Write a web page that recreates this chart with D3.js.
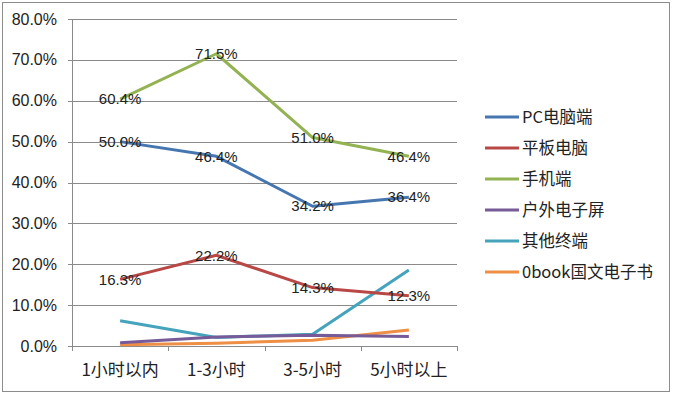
<!DOCTYPE html>
<html>
<head>
  <meta charset="utf-8" />
  <script src="https://d3js.org/d3.v7.min.js"></script>
  <style>
    body, html { margin: 0; background: #fff; }
    svg { display: block; font-family: "Liberation Sans", "Noto Sans CJK SC", sans-serif; }
  </style>
</head>
<body>
  <svg id="chart" width="673" height="396"></svg>
  <script>
    // categories and series
    var categories = ["1小时以内", "1-3小时", "3-5小时", "5小时以上"];
    var seriesNames = ["PC电脑端", "平板电脑", "手机端", "户外电子屏", "其他终端", "0book国文电子书"];
    var pcValues = [50.0, 46.4, 34.2, 36.4];
    var tabletValues = [16.3, 22.2, 14.3, 12.3];
    var mobileValues = [60.4, 71.5, 51.0, 46.4];
    var outdoorValues = [0.8, 2.2, 2.6, 2.3];
    var otherValues = [6.2, 2.1, 2.9, 18.6];
    var obookValues = [0.3, 0.7, 1.4, 3.9];
    var yTicks = [0, 10, 20, 30, 40, 50, 60, 70, 80];
    var colors = ["#4676B0", "#B84845", "#93B252", "#765B98", "#45A3BC", "#EE8F45"];

    var series = [
      { name: seriesNames[0], values: pcValues, labels: true },
      { name: seriesNames[1], values: tabletValues, labels: true },
      { name: seriesNames[2], values: mobileValues, labels: true },
      { name: seriesNames[3], values: outdoorValues, labels: false },
      { name: seriesNames[4], values: otherValues, labels: false },
      { name: seriesNames[5], values: obookValues, labels: false }
    ];

    var svg = d3.select("#chart");

    // outer frame
    svg.append("rect")
      .attr("x", 2.5).attr("y", 2.5)
      .attr("width", 667).attr("height", 389)
      .attr("fill", "none").attr("stroke", "#8c8c8c").attr("stroke-width", 1);

    var plotLeft = 72, plotRight = 457, plotTop = 19, plotBottom = 346;

    var x = d3.scaleBand().domain(categories).range([plotLeft, plotRight]);
    var y = d3.scaleLinear().domain([0, 80]).range([plotBottom, plotTop]);

    // gridlines
    svg.append("g").selectAll("line")
      .data(yTicks)
      .enter().append("line")
      .attr("x1", plotLeft - 4).attr("x2", plotRight)
      .attr("y1", function(d) { return Math.round(y(d)) + 0.5; })
      .attr("y2", function(d) { return Math.round(y(d)) + 0.5; })
      .attr("stroke", "#8a8a8a").attr("stroke-width", 1);

    // y axis line
    svg.append("line")
      .attr("x1", plotLeft + 0.5).attr("x2", plotLeft + 0.5)
      .attr("y1", plotTop).attr("y2", plotBottom)
      .attr("stroke", "#8a8a8a");

    // y labels
    svg.append("g").selectAll("text")
      .data(yTicks)
      .enter().append("text")
      .attr("x", 57)
      .attr("y", function(d) { return y(d); })
      .attr("dy", "0.35em")
      .attr("text-anchor", "end")
      .attr("font-size", 16)
      .attr("fill", "#222")
      .text(function(d) { return d.toFixed(1) + "%"; });

    // x axis ticks
    var xTickPos = categories.map(function(c) { return x(c); }).concat([plotRight]);
    svg.append("g").selectAll("line")
      .data(xTickPos)
      .enter().append("line")
      .attr("x1", function(d) { return Math.round(d) + 0.5; })
      .attr("x2", function(d) { return Math.round(d) + 0.5; })
      .attr("y1", plotBottom).attr("y2", plotBottom + 5)
      .attr("stroke", "#8a8a8a");

    // x labels
    svg.append("g").selectAll("text")
      .data(categories)
      .enter().append("text")
      .attr("x", function(d) { return x(d) + x.bandwidth() / 2; })
      .attr("y", 376)
      .attr("text-anchor", "middle")
      .attr("font-size", 17)
      .attr("font-family", "\"Noto Sans CJK SC\", sans-serif")
      .attr("fill", "#222")
      .text(function(d) { return d; });

    var line = d3.line()
      .x(function(d, i) { return x(categories[i]) + x.bandwidth() / 2; })
      .y(function(d) { return y(d); });

    // lines, drawn so the big ones sit on top like the original
    var order = [5, 4, 3, 2, 1, 0];
    order.forEach(function(k) {
      svg.append("path")
        .datum(series[k].values)
        .attr("d", line)
        .attr("fill", "none")
        .attr("stroke", colors[k])
        .attr("stroke-width", 3)
        .attr("stroke-linejoin", "round");
    });

    // data labels centred on points
    series.forEach(function(s) {
      if (!s.labels) return;
      svg.append("g").selectAll("text")
        .data(s.values)
        .enter().append("text")
        .attr("x", function(d, i) { return x(categories[i]) + x.bandwidth() / 2; })
        .attr("y", function(d) { return y(d); })
        .attr("dy", "0.35em")
        .attr("text-anchor", "middle")
        .attr("font-size", 15)
        .attr("fill", "#222")
        .text(function(d) { return d.toFixed(1) + "%"; });
    });

    // legend
    var legend = svg.append("g").selectAll("g")
      .data(series)
      .enter().append("g")
      .attr("transform", function(d, i) { return "translate(485," + (117 + i * 31) + ")"; });

    legend.append("line")
      .attr("x1", 0).attr("x2", 34)
      .attr("y1", 0).attr("y2", 0)
      .attr("stroke", function(d, i) { return colors[i]; })
      .attr("stroke-width", 3);

    legend.append("text")
      .attr("x", 37)
      .attr("dy", "0.35em")
      .attr("font-size", 16.5)
      .attr("font-family", "\"Noto Sans CJK SC\", sans-serif")
      .attr("fill", "#222")
      .text(function(d) { return d.name; });
  </script>
</body>
</html>
